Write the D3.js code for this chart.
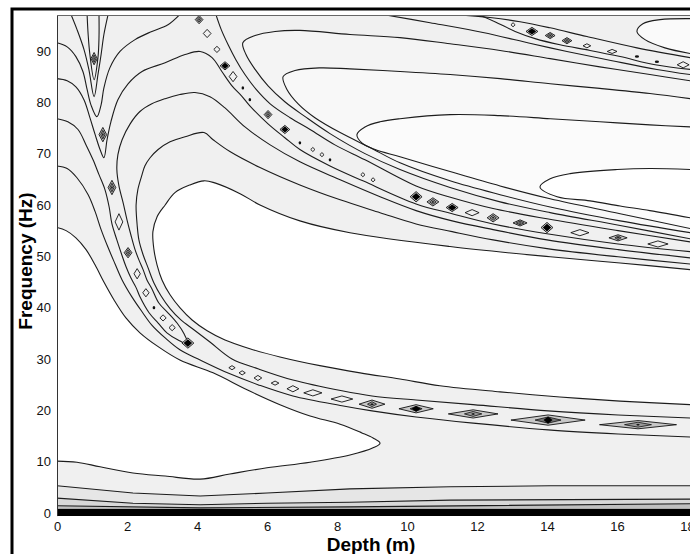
<!DOCTYPE html>
<html>
<head>
<meta charset="utf-8">
<script src="https://cdn.jsdelivr.net/npm/d3@7"></script>
<style>
  html, body { margin: 0; padding: 0; background: #fff; }
  svg { display: block; }
  .tick text { font-family: "Liberation Sans", Arial, sans-serif; font-size: 13px; fill: #111; }
  .axis-label { font-family: "Liberation Sans", Arial, sans-serif; font-size: 19px; font-weight: bold; fill: #000; text-anchor: middle; }
</style>
</head>
<body>
<div id="viz"></div>
<script>
const depthTicks = [0, 2, 4, 6, 8, 10, 12, 14, 16, 18];
const freqTicks = [0, 10, 20, 30, 40, 50, 60, 70, 80, 90];

// contour lines, points are [depth (m), frequency (Hz)]
const lineT0 = [[0.86,97.1],[0.89,93.2],[0.94,89.3],[1.06,84.4],[1.17,88.7],[1.2,92.6],[1.2,97.1]];
const lineV1 = [[0.40,97.1],[0.57,94.2],[0.77,90.3],[0.91,86.4],[1.06,81.1],[1.17,85.4],[1.26,89.3],[1.34,93.2],[1.46,97.1]];
const lineV2 = [[0,91.6],[0.29,90.8],[0.54,88.9],[0.74,86.0],[0.86,82.5],[0.97,79.5],[1.14,77.2],[1.26,79.5],[1.34,82.8],[1.51,86.7],[1.8,89.9],[2.23,92.2],[2.71,93.8],[3.17,95.1],[3.51,97.1]];
const lineCG = [[0,84.6],[0.29,84.2],[0.54,83.0],[0.77,80.5],[0.94,77.0],[1.09,73.7],[1.23,70.8],[1.34,69.2],[1.43,72.7],[1.54,76.2],[1.74,80.5],[2.03,83.6],[2.43,86.0],[3.09,87.7],[3.66,89.3],[4.09,89.9],[4.43,88.7],[4.71,86.0],[5.0,83.2],[5.29,81.1],[5.51,79.3],[6.03,75.8],[6.51,73.1],[6.94,70.8],[7.8,67.6],[8.74,64.7],[10.26,60.2],[11.29,58.3],[12.46,56.3],[14.0,54.4],[16.03,52.4],[18.09,50.9]];
const lineDH = [[0,76.8],[0.31,76.2],[0.6,74.7],[0.83,71.7],[1.03,68.8],[1.2,65.9],[1.37,63.0],[1.49,59.6],[1.57,56.3],[1.71,53.2],[1.86,50.1],[1.97,48.0],[2.11,45.8],[2.26,43.9],[2.37,42.1],[2.63,39.0],[2.89,37.0],[3.14,35.1],[3.46,33.7],[3.74,32.9],
  [3.63,34.9],[3.43,37.0],[3.17,39.0],[2.91,40.9],[2.71,43.7],[2.57,45.4],[2.46,47.4],[2.34,49.3],[2.23,51.3],[2.11,54.2],[2.0,57.1],[1.89,60.4],[1.77,63.7],[1.71,66.9],[1.74,69.8],[1.86,72.7],[2.09,75.8],[2.37,78.2],[2.71,79.7],[3.09,80.7],[3.51,81.5],[3.94,81.9],[4.37,81.1],[4.8,78.9],[5.37,75.2],[6.09,71.7],[6.94,68.4],[8.09,64.9],[9.23,61.6],[10.26,58.9],[11.29,56.9],[12.46,55.2],[14.0,53.2],[16.03,51.3],[18.09,49.7]];
const lineL166 = [[0,67.6],[0.29,67.1],[0.57,65.3],[0.89,62.0],[1.09,58.7],[1.26,55.2],[1.46,51.7],[1.66,48.5],[1.86,45.4],[2.14,42.1],[2.43,39.2],[2.71,36.6],[3.09,34.1],[3.51,31.8],[4.09,29.8],[4.94,27.1],[5.74,25.0],[6.74,22.8],[8.14,20.9],[9.0,19.9],[10.26,18.7],[11.89,17.5],[14.03,16.2],[16.03,15.4],[18.09,14.8]];
const lineL137 = [[18.09,48.5],[16.03,49.9],[14.0,51.5],[12.46,53.2],[11.29,54.8],[10.26,56.3],[9.23,58.5],[8.09,61.0],[6.94,63.9],[5.8,67.3],[4.94,70.4],[4.46,72.7],[4.2,74.1],[3.66,73.3],[3.23,72.3],[2.89,70.8],[2.66,69.2],[2.51,67.6],[2.43,65.9],[2.31,63.0],[2.26,60.0],[2.29,56.1],[2.34,53.2],[2.46,50.3],[2.6,47.8],[2.77,44.8],[2.97,42.3],[3.23,39.8],[3.54,37.6],[3.91,35.7],[4.37,33.3],[5.0,30.0],[5.74,28.1],[6.74,25.9],[8.14,23.8],[9.0,22.8],[10.26,22.0],[11.89,21.1],[14.03,19.9],[16.03,19.1],[18.09,18.5]];
const lineW = [[18.09,47.4],[16.09,48.7],[14.09,49.9],[11.23,51.9],[8.37,54.6],[6.94,56.9],[5.8,60.0],[5.23,62.2],[4.51,64.3],[4.2,64.7],[3.8,63.9],[3.37,62.4],[3.09,60.0],[2.86,57.7],[2.74,54.8],[2.77,51.3],[2.86,48.3],[3.0,45.4],[3.23,42.5],[3.51,40.0],[3.86,37.6],[4.29,35.5],[4.8,33.7],[5.51,32.0],[6.37,30.4],[7.51,28.7],[8.66,27.3],[9.8,26.1],[10.94,24.8],[12.66,23.6],[14.37,22.6],[16.09,21.8],[18.09,21.1]];
const lineL228 = [[0,55.6],[0.26,55.0],[0.54,53.6],[0.83,51.3],[1.09,48.3],[1.34,45.0],[1.63,41.5],[1.97,38.0],[2.37,35.1],[2.89,32.4],[3.51,29.8],[4.46,27.3],[5.43,24.0],[6.37,21.1],[7.23,18.9],[8.09,17.3],[8.71,15.6],[9.03,14.6],[9.23,13.6],[9.03,12.7],[8.37,11.3],[7.23,9.9],[6.0,8.8],[4.94,7.6],[4.09,6.6],[3.09,7.2],[2.17,7.8],[1.23,9.0],[0.57,9.9],[0,10.1]];
const lineCh2 = [[4.54,97.1],[4.69,94.2],[4.89,91.2],[5.11,88.3],[5.37,85.4],[5.69,82.5],[6.09,79.7],[6.66,77.0],[7.23,74.7],[7.94,71.7],[8.8,68.8],[10.26,63.7],[11.29,61.4],[12.46,59.3],[14.0,57.3],[16.03,55.0],[18.09,52.8]];
const lineH0 = [[18.09,84.2],[16.94,85.4],[15.51,86.9],[14.09,88.5],[12.66,90.1],[11.23,91.4],[9.8,92.6],[8.37,93.2],[6.94,94.0],[6.23,93.8],[5.66,93.0],[5.31,91.6],[5.4,89.3],[5.66,86.4],[6.03,83.2],[6.51,80.1],[7.09,77.2],[7.8,73.9],[8.8,70.0],[9.8,66.9],[11.23,63.4],[12.66,60.6],[14.09,58.5],[16.09,56.0],[18.09,53.4]];
const lineH1 = [[18.09,80.7],[16.94,81.7],[15.51,82.7],[14.09,83.6],[12.66,84.6],[11.23,85.4],[9.8,86.0],[8.37,86.5],[7.51,86.7],[6.8,86.2],[6.46,85.0],[6.57,82.5],[6.89,79.7],[7.37,77.0],[8.09,74.1],[8.94,71.2],[9.8,68.2],[11.23,64.7],[12.66,62.0],[14.09,59.6],[16.09,56.9],[18.09,54.6]];
const lineH2 = [[18.09,75.2],[16.94,75.6],[15.51,76.2],[14.09,76.8],[12.66,77.4],[11.23,77.6],[9.8,76.8],[9.23,76.2],[8.8,75.2],[8.57,73.7],[8.71,72.1],[9.09,70.8],[9.8,69.4],[11.23,66.5],[12.66,63.7],[14.09,61.2],[16.09,58.3],[18.09,55.4]];
const lineH3 = [[18.09,66.9],[16.94,67.1],[16.0,66.9],[14.66,66.1],[14.09,65.1],[13.8,63.5],[14.29,61.6],[15.23,60.8],[16.09,59.8],[16.94,58.9],[18.09,57.5]];
const lineR3a = [[11.37,97.1],[12.37,96.5],[13.23,95.7],[14.09,94.5],[15.14,92.8],[16.57,90.6],[18.09,88.7]];
const lineR3b = [[12.03,97.1],[12.51,95.7],[13.09,93.8],[13.66,92.4],[14.37,91.2],[15.23,90.1],[16.09,88.9],[17.09,87.3],[18.09,86.4]];
const lineR3c = [[9.31,97.1],[10.66,95.5],[12.17,93.6],[13.57,91.4],[14.57,89.9],[15.86,88.1],[17.14,86.4],[18.09,85.4]];
const lineLoop = [[18.09,96.3],[17.23,96.1],[16.74,95.3],[16.57,93.8],[16.8,92.2],[17.37,90.6],[18.09,89.5]];
const lineB1 = [[0,5.3],[2.17,3.9],[4.09,3.3],[6.0,3.9],[8.37,4.7],[11.23,5.1],[14.09,5.3],[18.09,5.3]];
const lineB2 = [[0,2.9],[2.17,1.9],[4.09,1.6],[6.0,1.9],[8.37,2.1],[11.23,2.5],[18.09,2.7]];
const lineB3 = [[0,1.4],[4.09,1.0],[8.37,1.2],[18.09,1.8]];
const baseBand = [-0.6, 0.8];

// small closed contours along the ridges: [depth, freq, half width (m), half height (Hz), kind]
const ridge1Marks = [[1.06,88.5,0.09,1.2,'ring'],[1.31,73.7,0.11,1.4,'ring'],[1.57,63.4,0.11,1.4,'ring'],[1.77,56.7,0.11,1.6,'open'],[2.03,50.7,0.11,1.0,'ring'],[2.29,46.6,0.09,1.0,'open'],[2.54,42.9,0.09,0.8,'open'],[2.77,40.0,0.03,0.4,'dot'],[3.03,38.0,0.09,0.6,'open'],[3.29,36.1,0.09,0.6,'open'],[3.74,33.1,0.17,1.0,'solid'],
  [5.0,28.3,0.09,0.4,'open'],[5.29,27.3,0.09,0.4,'open'],[5.74,26.3,0.11,0.5,'open'],[6.23,25.3,0.11,0.4,'open'],[6.74,24.2,0.17,0.6,'open'],[7.31,23.4,0.26,0.6,'open'],[8.14,22.2,0.31,0.6,'open'],[9.0,21.2,0.37,0.8,'ring'],[10.26,20.3,0.49,0.8,'solid'],[11.89,19.3,0.71,0.8,'ring'],[14.03,18.1,1.06,1.0,'solid'],[16.6,17.2,1.1,0.8,'ring']];
const ridge2Marks = [[4.06,96.1,0.11,0.8,'ring'],[4.29,93.4,0.11,0.8,'open'],[4.57,90.3,0.09,0.6,'open'],[4.8,87.1,0.14,0.8,'solid'],[5.03,85.0,0.11,1.0,'open'],[5.31,82.8,0.03,0.4,'dot'],[5.51,80.5,0.03,0.4,'dot'],[6.03,77.6,0.11,0.8,'ring'],[6.51,74.7,0.14,0.8,'solid'],[6.94,72.1,0.03,0.4,'dot'],[7.31,70.8,0.06,0.4,'open'],[7.57,69.8,0.06,0.4,'open'],[7.8,68.8,0.03,0.4,'dot'],[8.74,65.9,0.06,0.4,'open'],[9.03,64.9,0.06,0.4,'open'],
  [10.26,61.6,0.17,1.0,'solid'],[10.74,60.6,0.17,0.8,'ring'],[11.29,59.5,0.17,0.8,'solid'],[11.86,58.5,0.2,0.6,'open'],[12.46,57.5,0.17,0.8,'ring'],[13.23,56.5,0.2,0.6,'ring'],[14.0,55.6,0.17,1.0,'solid'],[14.94,54.6,0.26,0.6,'open'],[16.03,53.6,0.26,0.6,'ring'],[17.17,52.4,0.29,0.6,'open']];
const ridge3Marks = [[13.03,95.1,0.06,0.4,'open'],[13.57,93.8,0.17,0.8,'solid'],[14.09,93.0,0.14,0.6,'ring'],[14.57,92.0,0.14,0.6,'ring'],[15.14,91.0,0.11,0.4,'open'],[15.86,89.9,0.14,0.4,'open'],[16.57,88.9,0.06,0.3,'dot'],[17.14,87.9,0.06,0.3,'dot'],[17.89,87.3,0.17,0.6,'open']];

const W = 690, H = 554;
const x = d3.scaleLinear().domain([0, 18]).range([57, 687]);
const y = d3.scaleLinear().domain([0, 97]).range([513, 15]);

const svg = d3.select('#viz').append('svg')
  .attr('width', W).attr('height', H);

svg.append('defs').append('clipPath').attr('id', 'plot-clip')
  .append('rect')
    .attr('x', x(0)).attr('y', y(97))
    .attr('width', W - x(0)).attr('height', y(baseBand[0]) - y(97));

const plot = svg.append('g').attr('clip-path', 'url(#plot-clip)');

plot.append('rect')
  .attr('x', x(0)).attr('y', y(97))
  .attr('width', W - x(0)).attr('height', y(baseBand[0]) - y(97))
  .attr('fill', '#f0f0f0');

const smooth = d3.line()
  .x(d => x(d[0])).y(d => y(d[1]))
  .curve(d3.curveCatmullRom.alpha(0.5));
const straight = d3.line().x(d => x(d[0])).y(d => y(d[1]));

// lighter regions enclosed by contours
[[lineH0, '#f4f4f4'], [lineH1, '#f8f8f8'], [lineH2, '#fbfbfb'], [lineH3, '#ffffff'],
 [lineW, '#ffffff'], [lineL228, '#ffffff'], [lineLoop, '#fafafa']]
  .forEach(([pts, c]) => {
    plot.append('path').attr('d', smooth(pts) + 'Z').attr('fill', c);
  });

// darker shading near the bottom
const under = d3.area().x(d => x(d[0])).y0(y(0)).y1(d => y(d[1]));
[[lineB1, '#e6e6e6'], [lineB2, '#d8d8d8'], [lineB3, '#c0c0c0']].forEach(([pts, c]) => {
  plot.append('path').attr('d', under(pts)).attr('fill', c);
});

plot.append('rect')
  .attr('x', x(0)).attr('y', y(baseBand[1]))
  .attr('width', W - x(0)).attr('height', y(baseBand[0]) - y(baseBand[1]))
  .attr('fill', '#000');

const contourLines = [lineT0, lineV1, lineV2, lineCG, lineDH, lineL166, lineL137, lineW, lineL228,
  lineCh2, lineH0, lineH1, lineH2, lineH3, lineR3a, lineR3b, lineR3c, lineLoop];
contourLines.forEach(pts => {
  plot.append('path')
    .attr('d', smooth(pts))
    .attr('fill', 'none')
    .attr('stroke', '#1c1c1c')
    .attr('stroke-width', 1.1);
});
[lineB1, lineB2, lineB3].forEach(pts => {
  plot.append('path')
    .attr('d', straight(pts))
    .attr('fill', 'none')
    .attr('stroke', '#1c1c1c')
    .attr('stroke-width', 1.1);
});

function diamond(cx, cy, rx, ry) {
  return `M${cx - rx},${cy}L${cx},${cy - ry}L${cx + rx},${cy}L${cx},${cy + ry}Z`;
}

function drawMarks(marks) {
  marks.forEach(([d, f, w, h, kind]) => {
    const cx = x(d), cy = y(f);
    const rx = x(d + w) - cx, ry = y(f - h) - cy;
    const g = plot.append('g');
    if (kind === 'dot') {
      g.append('ellipse')
        .attr('cx', cx).attr('cy', cy)
        .attr('rx', Math.max(rx, 1.3)).attr('ry', Math.max(ry * 0.8, 1.2))
        .attr('fill', '#111');
      return;
    }
    g.append('path')
      .attr('d', diamond(cx, cy, rx, ry))
      .attr('fill', kind === 'open' ? 'none' : '#c8c8c8')
      .attr('stroke', '#111').attr('stroke-width', 0.9);
    if (kind === 'ring' || kind === 'solid') {
      const k = rx > 9 ? 0.35 : 0.55;
      g.append('path')
        .attr('d', diamond(cx, cy, rx * k, ry * 0.6))
        .attr('fill', kind === 'solid' ? '#777' : '#999')
        .attr('stroke', '#111').attr('stroke-width', 0.8);
    }
    if (kind === 'solid') {
      g.append('path')
        .attr('d', diamond(cx, cy, Math.min(rx * 0.7, 4.5), ry * 0.7))
        .attr('fill', '#000');
    } else if (kind === 'ring') {
      g.append('path')
        .attr('d', diamond(cx, cy, Math.min(rx * 0.2, 2), ry * 0.25))
        .attr('fill', '#111');
    }
  });
}
drawMarks(ridge1Marks);
drawMarks(ridge2Marks);
drawMarks(ridge3Marks);

// plot edges
svg.append('line')
  .attr('x1', x(0) + 0.5).attr('x2', x(0) + 0.5)
  .attr('y1', y(97)).attr('y2', y(baseBand[0]))
  .attr('stroke', '#333').attr('stroke-width', 1);
svg.append('line')
  .attr('x1', x(0)).attr('x2', W)
  .attr('y1', y(97) + 0.5).attr('y2', y(97) + 0.5)
  .attr('stroke', '#666').attr('stroke-width', 1);

const xAxis = svg.append('g')
  .attr('transform', `translate(0,${y(baseBand[0])})`)
  .call(d3.axisBottom(x).tickValues(depthTicks).tickSize(0).tickPadding(6));
xAxis.select('.domain').remove();

const yAxis = svg.append('g')
  .attr('transform', `translate(${x(0)},0)`)
  .call(d3.axisLeft(y).tickValues(freqTicks).tickSize(0).tickPadding(6));
yAxis.select('.domain').remove();

svg.append('text')
  .attr('class', 'axis-label')
  .attr('x', 371).attr('y', 551)
  .text('Depth (m)');

svg.append('text')
  .attr('class', 'axis-label')
  .attr('transform', 'translate(32,261) rotate(-90)')
  .text('Frequency (Hz)');

// outer frame
svg.append('rect')
  .attr('x', 12).attr('y', 9)
  .attr('width', 720).attr('height', 600)
  .attr('fill', 'none')
  .attr('stroke', '#000').attr('stroke-width', 3);
</script>
</body>
</html>
